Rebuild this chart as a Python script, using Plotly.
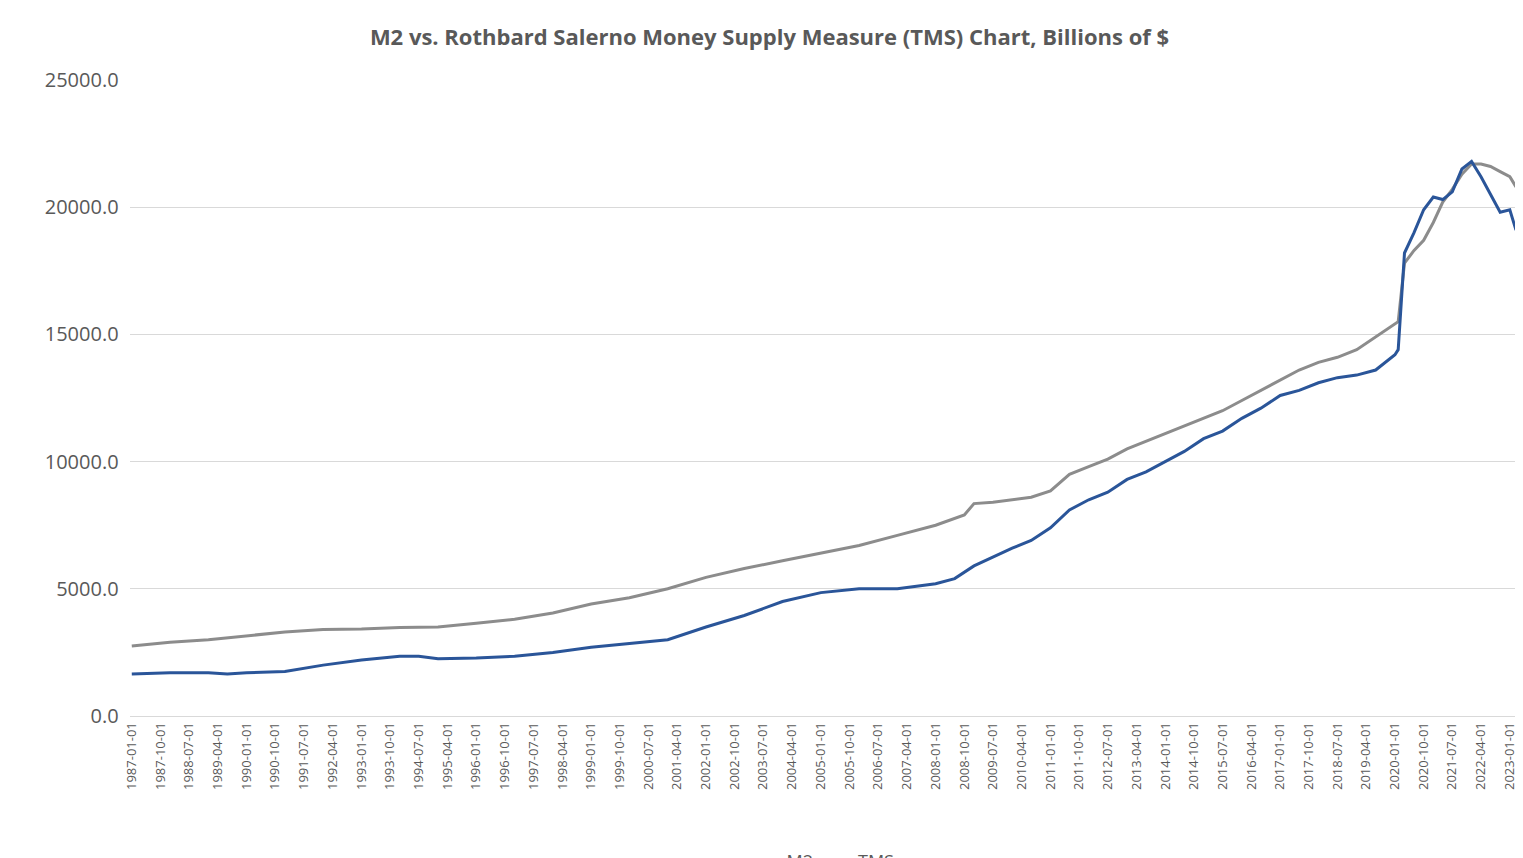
import pandas as pd
import plotly.graph_objects as go

m2_dates = ["1987-01-01", "1988-01-01", "1989-01-01", "1990-01-01", "1991-01-01", "1992-01-01",
            "1993-01-01", "1994-01-01", "1995-01-01", "1996-01-01", "1997-01-01", "1998-01-01",
            "1999-01-01", "2000-01-01", "2001-01-01", "2002-01-01", "2003-01-01", "2004-01-01",
            "2005-01-01", "2006-01-01", "2007-01-01", "2008-01-01", "2008-10-01", "2009-01-01",
            "2009-07-01", "2010-01-01", "2010-07-01", "2011-01-01", "2011-07-01", "2012-01-01",
            "2012-07-01", "2013-01-01", "2013-07-01", "2014-01-01", "2014-07-01", "2015-01-01",
            "2015-07-01", "2016-01-01", "2016-07-01", "2017-01-01", "2017-07-01", "2018-01-01",
            "2018-07-01", "2019-01-01", "2019-07-01", "2020-01-01", "2020-02-01", "2020-04-01",
            "2020-07-01", "2020-10-01", "2021-01-01", "2021-04-01", "2021-07-01", "2021-10-01",
            "2022-01-01", "2022-04-01", "2022-07-01", "2022-10-01", "2023-01-01", "2023-03-01"]
m2_values = [2750, 2900, 3000, 3150, 3300, 3400, 3420, 3480, 3500, 3650, 3800, 4050,
             4400, 4650, 5000, 5450, 5800, 6100, 6400, 6700, 7100, 7500, 7900, 8350,
             8400, 8500, 8600, 8850, 9500, 9800, 10100, 10500, 10800, 11100, 11400, 11700,
             12000, 12400, 12800, 13200, 13600, 13900, 14100, 14400, 14900, 15400, 15500, 17800,
             18300, 18700, 19400, 20200, 20700, 21300, 21700, 21700, 21600, 21400, 21200, 20800]

tms_dates = ["1987-01-01", "1988-01-01", "1989-01-01", "1989-07-01", "1990-01-01", "1991-01-01",
             "1992-01-01", "1993-01-01", "1994-01-01", "1994-07-01", "1995-01-01", "1996-01-01",
             "1997-01-01", "1998-01-01", "1999-01-01", "2000-01-01", "2000-07-01", "2001-01-01",
             "2002-01-01", "2003-01-01", "2004-01-01", "2005-01-01", "2006-01-01", "2007-01-01",
             "2008-01-01", "2008-07-01", "2009-01-01", "2010-01-01", "2010-07-01", "2011-01-01",
             "2011-07-01", "2012-01-01", "2012-07-01", "2013-01-01", "2013-07-01", "2014-01-01",
             "2014-07-01", "2015-01-01", "2015-07-01", "2016-01-01", "2016-07-01", "2017-01-01",
             "2017-07-01", "2018-01-01", "2018-07-01", "2019-01-01", "2019-07-01", "2020-01-01",
             "2020-02-01", "2020-04-01", "2020-07-01", "2020-10-01", "2021-01-01", "2021-04-01",
             "2021-07-01", "2021-10-01", "2022-01-01", "2022-04-01", "2022-07-01", "2022-10-01",
             "2023-01-01", "2023-03-01"]
tms_values = [1650, 1700, 1700, 1650, 1700, 1750, 2000, 2200, 2350, 2350, 2250, 2280,
              2350, 2500, 2700, 2850, 2900, 3000, 3500, 3950, 4500, 4850, 5000, 5000,
              5200, 5400, 5900, 6600, 6900, 7400, 8100, 8500, 8800, 9300, 9600, 10000,
              10400, 10900, 11200, 11700, 12100, 12600, 12800, 13100, 13300, 13400, 13600, 14200,
              14400, 18200, 19000, 19900, 20400, 20300, 20600, 21500, 21800, 21200, 20500, 19800,
              19900, 19100]

# ticks every 9 months like the original spreadsheet axis
tick_dates = pd.date_range("1987-01-01", "2023-01-01", freq="9MS")
tick_labels = [d.strftime("%Y-%m-%d") for d in tick_dates]

fig = go.Figure()
fig.add_trace(go.Scatter(x=m2_dates, y=m2_values, mode="lines", name="M2",
                         line=dict(color="#8c8c8c", width=3)))
fig.add_trace(go.Scatter(x=tms_dates, y=tms_values, mode="lines", name="TMS",
                         line=dict(color="#2a5599", width=3)))

fig.update_layout(
    width=1523, height=858,
    plot_bgcolor="white", paper_bgcolor="white",
    font=dict(family="Open Sans", color="#595959", size=14),
    title=dict(text="<b>M2 vs. Rothbard Salerno Money Supply Measure (TMS) Chart, Billions of $</b>",
               x=0.5, y=0.975, xanchor="center", font=dict(size=22, color="#595959")),
    margin=dict(l=122, r=15, t=72, b=150, autoexpand=False),
    showlegend=True,
    legend=dict(orientation="h", x=0.5, xanchor="center", y=-0.2, yanchor="top",
                font=dict(size=18)),
)
fig.update_xaxes(type="date", range=["1986-12-15", "2023-03-01"], tickvals=tick_dates,
                 ticktext=tick_labels, tickangle=-90, tickfont=dict(size=13),
                 showgrid=False, showline=True, linecolor="#d9d9d9", ticks="")
fig.update_yaxes(range=[0, 25000], dtick=5000, tickformat=".1f", showgrid=True,
                 gridcolor="#d9d9d9", zeroline=False, tickfont=dict(size=20), ticksuffix="  ")

fig.write_html("out.html")
